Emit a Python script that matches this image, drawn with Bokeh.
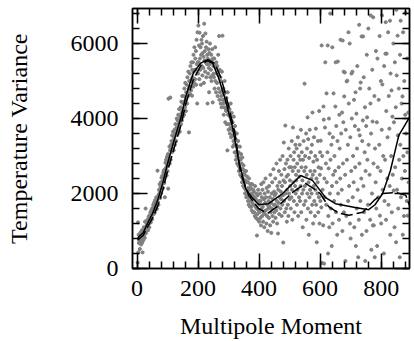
from bokeh.plotting import figure
from bokeh.models import Range1d, LinearAxis, FixedTicker, CustomJSTickFormatter
from bokeh.embed import file_html
from bokeh.resources import INLINE

# ---- data -------------------------------------------------------------
power = [
    160, 1230, 430, 900, 680, 750, 820, 520, 700, 960,
    780, 640, 880, 720, 1020, 690, 430, 850, 930, 760,
    1100, 870, 980, 820, 1250, 1050, 1600, 940, 1120, 1010,
    1180, 1060, 1300, 1150, 1020, 1240, 1380, 1200, 1100, 1420,
    1350, 1280, 1500, 1230, 1420, 1560, 1390, 1310, 1610, 1480,
    1540, 1700, 1450, 1620, 1760, 1580, 1490, 1820, 1650, 1720,
    1680, 1900, 1760, 1590, 1850, 2610, 1780, 1920, 1700, 1980,
    2100, 1930, 2250, 2050, 1880, 2180, 2300, 2010, 2420, 2150,
    2250, 2480, 2330, 2150, 2560, 2400, 2620, 2280, 2500, 1900,
    2650, 2820, 2550, 2900, 2700, 2480, 2980, 2760, 2600, 3050,
    2130, 4530, 2880, 2980, 3250, 2800, 3150, 4560, 2900, 3300,
    3180, 3400, 3100, 3550, 3300, 3200, 3650, 3380, 3150, 3500,
    3450, 3700, 3300, 3600, 3850, 3550, 3400, 3750, 4000, 3620,
    3700, 3950, 3600, 4100, 3850, 3750, 4250, 3900, 3650, 4050,
    4000, 4300, 3850, 4450, 4150, 3950, 4600, 4200, 4050, 4400,
    4250, 4600, 4100, 4800, 4450, 4300, 4950, 4500, 4200, 4700,
    4550, 4900, 4400, 5100, 4700, 4600, 5250, 4800, 3630, 5000,
    4850, 5200, 4650, 5400, 5000, 4750, 5500, 5050, 4610, 5300,
    5100, 5500, 4850, 5700, 5250, 4950, 5900, 5300, 5050, 5600,
    5300, 5800, 4900, 6100, 5450, 4400, 6300, 5500, 5200, 6480,
    5500, 5950, 5050, 6290, 5600, 5300, 5900, 4900, 5700, 6100,
    5400, 6000, 5150, 5750, 6200, 5350, 5650, 4950, 6530, 5550,
    5800, 5250, 6270, 5500, 5900, 5100, 6050, 5450, 5700, 4400,
    5600, 5200, 5850, 5350, 4700, 5750, 5450, 6000, 5100, 5550,
    5300, 5700, 5000, 5550, 5850, 5150, 4430, 5600, 5400, 5200,
    5100, 5600, 4800, 5450, 5900, 5000, 5350, 4700, 5500, 5200,
    4950, 5400, 4600, 5250, 5700, 4800, 5150, 6200, 4500, 5300,
    4700, 5100, 4400, 5000, 4600, 4300, 5250, 4750, 6210, 4500,
    4400, 4800, 4100, 4650, 4300, 5000, 4450, 3900, 4700, 4250,
    4200, 4550, 3850, 4400, 3150, 4700, 4100, 4350, 3700, 4210,
    3850, 4250, 3600, 4050, 3750, 4400, 3500, 3950, 4150, 3700,
    3550, 3900, 3250, 3700, 3400, 4050, 3300, 3650, 3100, 3800,
    3100, 3450, 2900, 3300, 3000, 3600, 2800, 3250, 2950, 3400,
    2750, 3100, 2600, 2950, 2700, 3250, 2500, 2900, 2650, 3050,
    2450, 2800, 2300, 2960, 2400, 2650, 2200, 2750, 2350, 2550,
    2150, 2500, 2000, 2350, 2100, 2600, 1900, 2300, 2050, 2450,
    1950, 2300, 1800, 2150, 1700, 2400, 1900, 2100, 1650, 2250,
    1800, 2150, 1650, 2000, 1550, 2250, 1750, 1950, 1500, 2100,
    1700, 2050, 1500, 1900, 1400, 2200, 1650, 1850, 1350, 2000,
    1600, 880, 1450, 1950, 1300, 2100, 1550, 1800, 1250, 1700,
    1500, 2000, 1350, 1800, 1150, 2250, 1600, 1900, 1400, 2100,
    1650, 1250, 2300, 1500, 1850, 1100, 2000, 1450, 1750, 2400,
    1550, 1900, 1200, 2150, 1400, 1700, 1000, 2050, 1600, 1800,
    1350, 2200, 1650, 1900, 1150, 2500, 1500, 1750, 950, 2000,
    1600, 2300, 1400, 1850, 1250, 2650, 1700, 2050, 1500, 1950,
    1700, 2400, 1350, 2000, 1550, 2800, 1800, 1200, 2200, 1650,
    933, 2100, 1750, 2600, 1450, 2300, 1900, 2900, 1600, 2050,
    1850, 2500, 1400, 2200, 1700, 3000, 1950, 693, 2350, 3360,
    1800, 2650, 1500, 2300, 3813, 2000, 2800, 1600, 2450, 1250,
    2100, 2900, 1700, 2500, 1400, 3200, 2000, 2700, 1850, 2350,
    2200, 3000, 1600, 2700, 1900, 3400, 2100, 1300, 2600, 3760,
    2300, 2900, 1800, 3100, 1500, 2700, 2200, 3300, 2000, 2500,
    2350, 3200, 1700, 2800, 2100, 3500, 1400, 2600, 3000, 1900,
    2450, 3300, 1800, 2900, 2200, 3700, 1500, 2700, 3100, 2000,
    2350, 1100, 2900, 2100, 3400, 1700, 2600, 4930, 2200, 3000,
    1800, 2700, 3600, 1300, 2500, 3200, 2000, 4030, 1600, 3450,
    2300, 900, 2950, 1900, 3700, 2100, 2600, 1500, 3100, 2400,
    2000, 3300, 1700, 4160, 2500, 1200, 2850, 2200, 3500, 1800,
    2600, 1400, 3000, 2100, 3730, 1700, 2400, 700, 2900, 2000,
    2300, 3400, 1500, 2700, 1900, 4200, 1200, 2500, 3100, 1800,
    3410, 2670, 1630, 5950, 150, 3000, 2100, 7600, 1150, 4320,
    3970, 130, 2400, 1900, 3760, 5500, -300, 2800, 1700, 4670,
    2300, 8200, 3100, 5950, 400, 1400, 2670, 4000, 1100, 3600,
    2000, 6800, 2900, 1600, 7900, 3300, 600, 2200, 5900, 1200,
    3500, 2500, 4670, 9000, 1800, 3000, -800, 2600, 4320, 5500,
    1500, 3800, 2300, 7400, 900, 3400, 5520, 2000, 10000, 2700,
    1300, 4100, 3200, -600, 2400, 6100, 1700, 3600, 8500, 2100,
    4160, 1000, 6080, 2800, 3900, 5250, 1500, 4590, 9500, 5230,
    2500, 200, 3700, 7100, 1400, 4990, 2900, 5010, -1200, 3300,
    1800, 6300, 4400, 2200, 11000, 6000, 1200, 3500, 800, 7700,
    2600, 5200, 4000, -400, 5250, 1900, 3000, 8800, 2300, 4500,
    1100, 7300, 3800, 2700, 4700, 600, 9400, 4130, 1600, 3200,
    5400, 2100, 7800, 300, 3700, 1300, 6500, 2800, 3550, 4800,
    1800, 4960, 10500, 2400, 6190, 900, 3400, -1500, 3950, 6190,
    2200, 5100, 1500, 8100, 3100, 4300, 200, 2600, 7200, 3800,
    1000, 5700, 4030, 2900, 9800, 1700, 6400, 3300, -900, 4800,
    2500, 7500, 1300, 4400, 6750, 3600, 500, 8900, 2000, 5300,
    3920, 1150, 6700, 2800, 1150, 9300, 4600, 300, 3200, 7600,
    2300, 5800, 1600, 10800, 3900, 600, 5600, 2700, 7200, 1900,
    4500, -1000, 3300, 6200, 1410, 8600, 2600, 5000, 1200, 9900,
    3700, 6750, 4910, 2100, 11500, 3000, 7000, 400, 5400, 1800,
    8300, 2900, 5730, 6570, 1300, 4200, 5730, 12000, 2400, 3500,
    -1800, 6300, 1700, 4600, 8700, 3730, 2200, 6610, 900, 5200,
    10200, 3000, 4750, 1500, 7400, 4050, 2500, -700, 6000, 2080,
    3900, 9100, 1100, 5500, 2700, 13000, 4300, 700, 6900, 5150,
    2100, 7800, 6210, 3550, 1600, 11000, 4800, 2900, 8200, 300,
    5700, 3300, 6610, 1900, 10600, 4400, 2400, 7300, 4590, 900,
    6300, 3000, 12500, 1400, 5000, 8800, 2600, 4100, 6830, -2000,
    3600, 9500, 1800, 5600, 3100, 1410, 7100, 4160, 2300,
]
ell = list(range(2, 2 + len(power)))

solid_ell = [2, 20, 34, 51, 67, 84, 100, 121, 143, 160, 185, 208, 225, 248, 267,
             290, 313, 333, 356, 379, 398, 431, 477, 536, 575, 618, 650, 715, 759,
             780, 805, 830, 858, 893]
solid_val = [820, 950, 1200, 1470, 1810, 2270, 2800, 3410, 4000, 4600, 5230, 5470,
             5550, 5470, 5090, 4480, 3760, 2880, 2130, 1870, 1710, 1730, 2000, 2480,
             2350, 1890, 1730, 1630, 1570, 1700, 2000, 2600, 3550, 4030]

dash_ell = [2, 20, 34, 51, 67, 84, 100, 121, 143, 160, 185, 208, 232, 255, 275,
            298, 321, 339, 366, 398, 428, 464, 510, 552, 579, 600, 628, 660, 694,
            740, 776, 805, 848, 881, 893]
dash_val = [760, 880, 1100, 1350, 1650, 2080, 2600, 3200, 3800, 4400, 5050, 5400,
            5570, 5470, 5090, 4400, 3600, 2550, 1950, 1600, 1470, 1680, 2030, 2270,
            2130, 2000, 1650, 1480, 1420, 1500, 1810, 2000, 2030, 1950, 1680]

x_major = [0, 200, 400, 600, 800]
x_minor = list(range(-40, 920, 40))
y_major = [0, 2000, 4000, 6000]
y_minor = list(range(0, 7200, 400))

FONT = "'Liberation Serif', 'Times New Roman', serif"

p = figure(width=414, height=341, output_backend="svg", toolbar_location=None,
           x_range=Range1d(-15, 893), y_range=Range1d(0, 6935),
           min_border_left=132, min_border_right=5, min_border_top=8,
           min_border_bottom=73)
p.xgrid.visible = False
p.ygrid.visible = False
p.outline_line_color = "black"
p.outline_line_width = 1.5

p.scatter(ell, power, size=3.1, color="#808080")
p.line(solid_ell, solid_val, line_color="black", line_width=1.5)
p.line(dash_ell, dash_val, line_color="black", line_width=1.5, line_dash="12 4")

xt = FixedTicker(ticks=x_major, minor_ticks=x_minor)
yt = FixedTicker(ticks=y_major, minor_ticks=y_minor)


def style(ax, show_labels):
    ax.major_tick_in = 15
    ax.major_tick_out = 0
    ax.minor_tick_in = 7
    ax.minor_tick_out = 0
    ax.major_tick_line_width = 1.5
    ax.minor_tick_line_width = 1.5
    ax.axis_line_width = 1.5
    ax.major_tick_line_color = "black"
    ax.minor_tick_line_color = "black"
    ax.axis_line_color = "black"
    if show_labels:
        ax.major_label_text_font = FONT
        ax.major_label_text_font_size = "24px"
        ax.major_label_text_color = "#000000"
        ax.axis_label_text_font = FONT
        ax.axis_label_text_font_size = "24px"
        ax.axis_label_text_font_style = "normal"
        ax.axis_label_text_color = "#000000"
    else:
        ax.major_label_text_font_size = "0px"
        ax.major_label_standoff = 0
        ax.formatter = CustomJSTickFormatter(code="return ''")


xa = p.xaxis[0]
xa.ticker = xt
xa.axis_label = "Multipole Moment"
style(xa, True)
xa.major_label_standoff = 12
xa.axis_label_standoff = 14

ya = p.yaxis[0]
ya.ticker = yt
ya.axis_label = "Temperature Variance"
style(ya, True)
ya.major_label_standoff = 14
ya.axis_label_standoff = 36

top = LinearAxis(ticker=FixedTicker(ticks=x_major, minor_ticks=x_minor))
style(top, False)
p.add_layout(top, "above")

right = LinearAxis(ticker=FixedTicker(ticks=y_major, minor_ticks=y_minor))
style(right, False)
p.add_layout(right, "right")

open("out.html", "w").write(file_html(p, INLINE))
